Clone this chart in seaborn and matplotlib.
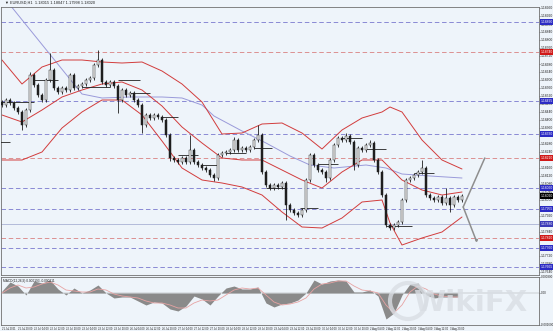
import matplotlib
matplotlib.use("Agg")
import numpy as np
import pandas as pd
import matplotlib.pyplot as plt
import matplotlib.transforms as mtransforms
from matplotlib.patches import Ellipse
from matplotlib.ticker import MultipleLocator, FormatStrFormatter
import seaborn as sns

# ---------------- data ----------------
first_open = 1.18490
closes = [
    1.18475, 1.18500, 1.18485, 1.18460, 1.18440, 1.18375, 1.18450, 1.18625, 1.18575, 1.18525,
    1.18500, 1.18600, 1.18650, 1.18560, 1.18540, 1.18560, 1.18550, 1.18625, 1.18560, 1.18570,
    1.18580, 1.18600, 1.18610, 1.18675, 1.18700, 1.18590, 1.18575, 1.18590, 1.18570, 1.18500,
    1.18550, 1.18525, 1.18535, 1.18500, 1.18475, 1.18375, 1.18425, 1.18410, 1.18425, 1.18415,
    1.18400, 1.18325, 1.18210, 1.18200, 1.18190, 1.18210, 1.18190, 1.18250, 1.18190, 1.18175,
    1.18160, 1.18150, 1.18125, 1.18110, 1.18225, 1.18235, 1.18240, 1.18250, 1.18300, 1.18250,
    1.18260, 1.18250, 1.18265, 1.18300, 1.18325, 1.18140, 1.18075, 1.18060, 1.18075, 1.18065,
    1.18085, 1.17975, 1.17950, 1.17935, 1.17925, 1.17950, 1.18100, 1.18225, 1.18175, 1.18150,
    1.18140, 1.18110, 1.18200, 1.18275, 1.18310, 1.18300, 1.18320, 1.18290, 1.18175, 1.18260,
    1.18250, 1.18275, 1.18285, 1.18200, 1.18140, 1.18025, 1.17875, 1.17860, 1.17875, 1.17890,
    1.18000, 1.18100, 1.18110, 1.18125, 1.18140, 1.18160, 1.18025, 1.18010, 1.18000, 1.18015,
    1.17985, 1.18010, 1.17975, 1.18015, 1.18000, 1.18020,
]
# wick lengths beyond the body, in points (0.00001)
wick_up = [
    10, 10, 10, 10, 10, 10, 10, 15, 10, 10,
    10, 10, 85, 10, 10, 10, 10, 10, 10, 10,
    10, 10, 10, 10, 50, 10, 10, 10, 10, 10,
    10, 10, 10, 10, 10, 10, 10, 10, 10, 10,
    10, 10, 10, 10, 10, 10, 10, 75, 10, 10,
    10, 10, 10, 10, 10, 10, 10, 10, 15, 10,
    10, 10, 10, 10, 50, 10, 10, 10, 10, 10,
    10, 10, 10, 10, 10, 10, 10, 10, 10, 10,
    10, 10, 10, 10, 10, 10, 15, 10, 10, 10,
    10, 10, 15, 10, 10, 10, 10, 10, 10, 10,
    10, 10, 10, 10, 10, 40, 10, 10, 10, 10,
    10, 50, 10, 10, 10, 10,
]
wick_dn = [
    10, 10, 10, 10, 10, 25, 10, 10, 10, 10,
    10, 10, 10, 10, 10, 10, 10, 10, 10, 10,
    10, 10, 10, 10, 10, 10, 10, 10, 10, 65,
    10, 10, 10, 10, 10, 40, 10, 10, 10, 10,
    10, 10, 15, 10, 10, 10, 10, 10, 10, 10,
    10, 10, 10, 15, 10, 10, 10, 10, 10, 10,
    10, 10, 10, 10, 10, 10, 10, 10, 10, 10,
    10, 75, 10, 10, 10, 10, 10, 10, 10, 10,
    10, 20, 10, 10, 10, 10, 10, 10, 25, 10,
    10, 10, 10, 10, 10, 10, 10, 10, 10, 10,
    10, 10, 10, 10, 10, 10, 10, 10, 10, 10,
    10, 10, 35, 10, 10, 10,
]

band_idx = [0, 5, 10, 15, 20, 25, 30, 35, 40, 45, 50, 55, 60, 65, 70, 75, 80, 85, 90, 95, 97, 100, 105, 110, 115]
band_upper = [1.18700, 1.18580, 1.18665, 1.18700, 1.18700, 1.18690, 1.18685, 1.18690, 1.18645, 1.18580,
              1.18490, 1.18330, 1.18335, 1.18380, 1.18385, 1.18335, 1.18255, 1.18350, 1.18410, 1.18440,
              1.18465, 1.18440, 1.18300, 1.18200, 1.18155]
band_middle = [1.18425, 1.18390, 1.18450, 1.18515, 1.18550, 1.18580, 1.18590, 1.18550, 1.18470, 1.18365,
               1.18285, 1.18210, 1.18200, 1.18200, 1.18150, 1.18100, 1.18060, 1.18140, 1.18200, 1.18200,
               1.18160, 1.18100, 1.18050, 1.18025, 1.18040]
band_lower = [1.18200, 1.18200, 1.18240, 1.18360, 1.18440, 1.18500, 1.18500, 1.18425, 1.18295, 1.18160,
              1.18100, 1.18085, 1.18065, 1.18025, 1.17940, 1.17865, 1.17860, 1.17910, 1.17990, 1.18000,
              1.17885, 1.17775, 1.17810, 1.17840, 1.17915]

ma_idx = [1, 20, 25, 32, 40, 45, 50, 53, 60, 66, 72, 77, 83, 91, 96, 100, 107, 115]
ma_vals = [1.19000, 1.18530, 1.18510, 1.18515, 1.18515, 1.18510, 1.18475, 1.18420, 1.18345, 1.18285,
           1.18220, 1.18175, 1.18160, 1.18175, 1.18160, 1.18130, 1.18120, 1.18110]

levels_blue = [1.18890, 1.18495, 1.18330, 1.18060, 1.17955, 1.17760, 1.17665]
levels_red = [1.18740, 1.18210, 1.17810]
level_solid = [1.17880]
current_price = 1.18020

seg_start = [-0.5, 0, 8, 20, 29, 32, 40, 44, 50, 56, 63, 66, 74.5, 79, 85, 91, 96, 103]
seg_end = [2, 8, 14, 27, 34.5, 37, 44, 49, 54, 61, 67.5, 71, 79, 84, 90, 96, 102.5, 108]
seg_price = [1.18290, 1.18490, 1.18600, 1.18565, 1.18600, 1.18535, 1.18415, 1.18225, 1.18175, 1.18235,
             1.18260, 1.18060, 1.17960, 1.18180, 1.18310, 1.18255, 1.17870, 1.18135]

proj_up_x = [115.3, 120.7]
proj_up_y = [1.17965, 1.18210]
proj_dn_x = [115.3, 118.5]
proj_dn_y = [1.17965, 1.17800]

macd_idx = list(range(0, 116, 2))
macd_vals = [0.00010, 0.00055, 0.00035, -0.00010, 0.00060, 0.00050, 0.00065, 0.00020, -0.00010, 0.00025,
             0.00000, 0.00015, 0.00040, 0.00000, -0.00025, -0.00020, -0.00020, -0.00040, -0.00060, -0.00045,
             -0.00050, -0.00080, -0.00090, -0.00065, -0.00015, -0.00030, -0.00060, -0.00015, 0.00025, 0.00035,
             0.00020, 0.00020, 0.00030, -0.00050, -0.00070, -0.00055, -0.00050, -0.00035, 0.00000, 0.00065,
             0.00045, 0.00060, 0.00065, 0.00060, 0.00005, 0.00005, 0.00015, -0.00015, -0.00130, -0.00100,
             -0.00010, 0.00045, 0.00050, -0.00010, -0.00025, -0.00020, -0.00020, -0.00020]
signal_vals = [0.00000, 0.00025, 0.00040, 0.00025, 0.00030, 0.00045, 0.00055, 0.00040, 0.00015, 0.00010,
               0.00005, 0.00005, 0.00020, 0.00015, -0.00005, -0.00015, -0.00020, -0.00025, -0.00040, -0.00050,
               -0.00050, -0.00060, -0.00075, -0.00075, -0.00050, -0.00035, -0.00040, -0.00035, -0.00010, 0.00015,
               0.00025, 0.00020, 0.00025, -0.00010, -0.00045, -0.00060, -0.00055, -0.00045, -0.00025, 0.00020,
               0.00045, 0.00050, 0.00060, 0.00060, 0.00035, 0.00015, 0.00010, 0.00000, -0.00060, -0.00100,
               -0.00060, 0.00005, 0.00035, 0.00020, -0.00005, -0.00015, -0.00020, -0.00020]
macd_ticks = [0.00080, 0.0, -0.00160]
macd_tick_labels = ["0.000800", "0.00", "-0.001600"]

time_idx = list(range(0, 116, 4))
time_labels = ["21 Jul 2021", "21 Jul 20:00", "22 Jul 04:00", "22 Jul 12:00", "22 Jul 20:00",
               "23 Jul 04:00", "23 Jul 12:00", "23 Jul 20:00", "26 Jul 04:00", "26 Jul 12:00",
               "26 Jul 20:00", "27 Jul 04:00", "27 Jul 12:00", "27 Jul 20:00", "28 Jul 04:00",
               "28 Jul 12:00", "28 Jul 20:00", "29 Jul 04:00", "29 Jul 12:00", "29 Jul 20:00",
               "30 Jul 04:00", "30 Jul 12:00", "30 Jul 20:00", "2 Aug 04:00", "2 Aug 12:00",
               "2 Aug 20:00", "3 Aug 04:00", "3 Aug 12:00", "3 Aug 20:00"]

title_text = "\u25BC EURUSD,H1  1.18015 1.18047 1.17998 1.18020"
macd_title = "MACD(12,26,9) 0.000193 -0.000211"

# ---------------- style ----------------
BG = "#EEF4FA"
BLUE = "#8282D2"
RED = "#DB8A8A"
BAND = "#D23C3C"
MA = "#9A9ADA"
sns.set_theme(style="white", rc={"axes.facecolor": BG, "figure.facecolor": BG})
plt.rcParams["font.family"] = ["Liberation Sans Narrow", "Liberation Sans", "DejaVu Sans"]

W, H = 553, 331
fig = plt.figure(figsize=(W / 100, H / 100), dpi=100)
ax = fig.add_axes([1 / W, 1 - 275 / H, 538 / W, 268 / H])
axm = fig.add_axes([1 / W, 1 - 325 / H, 538 / W, 48 / H])
for a in (ax, axm):
    a.set_facecolor(BG)
    for s in a.spines.values():
        s.set_color("#707070")
        s.set_linewidth(0.6)

XMIN, XMAX = -0.25, 134.25
ax.set_xlim(XMIN, XMAX)
ax.set_ylim(1.17625, 1.18965)

# level lines
for lv in levels_blue:
    ax.axhline(lv, color=BLUE, lw=0.65, ls=(0, (5, 3)), zorder=1)
for lv in levels_red:
    ax.axhline(lv, color=RED, lw=0.65, ls=(0, (5, 3)), zorder=1)
for lv in level_solid:
    ax.axhline(lv, color="#A9B2D4", lw=0.6, zorder=1)

# moving average and bands
sns.lineplot(x=ma_idx, y=ma_vals, ax=ax, color=MA, lw=0.7, sort=False, zorder=2)
for band in (band_upper, band_middle, band_lower):
    sns.lineplot(x=band_idx, y=band, ax=ax, color=BAND, lw=0.7, sort=False, zorder=2)

# candles
df = pd.DataFrame({"close": closes})
df["open"] = [first_open] + closes[:-1]
df["high"] = np.maximum(df["open"], df["close"]) + np.array(wick_up) * 1e-5
df["low"] = np.minimum(df["open"], df["close"]) - np.array(wick_dn) * 1e-5
idx = np.arange(len(df))
ax.vlines(idx, df["low"], df["high"], color="#1E1E1E", lw=0.6, zorder=3)
body_h = np.maximum(np.abs(df["close"] - df["open"]), 0.00002)
body_b = np.minimum(df["open"], df["close"])
bull = df["close"] >= df["open"]
ax.bar(idx[bull], body_h[bull], bottom=body_b[bull], width=0.5, color="#F4F4F4",
       edgecolor="#1E1E1E", linewidth=0.35, zorder=4)
ax.bar(idx[~bull], body_h[~bull], bottom=body_b[~bull], width=0.5, color="#1E1E1E",
       edgecolor="#1E1E1E", linewidth=0.35, zorder=4)

# short horizontal segments
ax.hlines(seg_price, seg_start, seg_end, color="#202020", lw=0.6, zorder=3)

# projection lines
ax.plot(proj_up_x, proj_up_y, color="#8E8E8E", lw=1.1, zorder=3)
ax.plot(proj_dn_x, proj_dn_y, color="#8E8E8E", lw=1.1, zorder=3)
ax.plot([proj_dn_x[-1]], [proj_dn_y[-1]], marker="v", ms=1.5, color="#8E8E8E", zorder=3)

# price axis
ax.yaxis.tick_right()
ax.yaxis.set_major_locator(MultipleLocator(0.0004))
ax.yaxis.set_major_formatter(FormatStrFormatter("%.5f"))
ax.tick_params(axis="y", labelsize=2.4, length=1.0, width=0.4, pad=0.4, colors="#202020")
ax.set_xticks([])
ax.set_xlabel("")
ax.set_ylabel("")

trans = mtransforms.blended_transform_factory(ax.transAxes, ax.transData)
box_items = [(lv, "#2B2BC4") for lv in levels_blue] + [(lv, "#D01818") for lv in levels_red] \
    + [(lv, "#3A3AB8") for lv in level_solid] + [(current_price, "#000000")]
for lv, col in box_items:
    ax.text(1.004, lv, f"{lv:.5f}", transform=trans, fontsize=2.4, color="white",
            va="center", ha="left", zorder=6, clip_on=False,
            bbox=dict(boxstyle="square,pad=0.2", fc=col, ec="none"))

# MACD panel
axm.set_xlim(XMIN, XMAX)
axm.set_ylim(-0.0016, 0.0008)
axm.fill_between(macd_idx, 0, macd_vals, color="#8A8A8A", lw=0, zorder=2)
sns.lineplot(x=macd_idx, y=signal_vals, ax=axm, color="#E7A3A3", lw=0.6, sort=False, zorder=3)
axm.axhline(0, color="#9A9A9A", lw=0.3, zorder=1)
axm.yaxis.tick_right()
axm.set_yticks(macd_ticks)
axm.set_yticklabels(macd_tick_labels)
axm.tick_params(axis="y", labelsize=2.2, length=1.0, width=0.4, pad=0.4, colors="#202020")
axm.set_xticks(time_idx)
axm.set_xticklabels(time_labels)
axm.tick_params(axis="x", labelsize=1.9, length=0.8, width=0.4, pad=0.5, colors="#202020")
for lab in axm.get_xticklabels():
    lab.set_ha("left")
axm.set_xlabel("")
axm.set_ylabel("")
axm.text(0.004, 0.96, macd_title, transform=axm.transAxes, fontsize=2.3, va="top", ha="left",
         color="#202020")

# titles
fig.text(5 / W, 1 - 3 / H, title_text, fontsize=2.8, va="center", ha="left", color="#202020")

# watermark
fig.add_artist(Ellipse((408 / W, 1 - 301 / H), 36 / W, 36 / H, transform=fig.transFigure,
                       fill=False, ec="#D9DEE4", lw=3.0, alpha=0.8, zorder=10))
fig.text(470 / W, 1 - 303 / H, "WikiFX", fontsize=21, fontweight="bold", color="#D9DEE4",
         alpha=0.8, ha="center", va="center", zorder=10, family=["DejaVu Sans"])

fig.savefig("out.png", dpi=100, facecolor=BG)
